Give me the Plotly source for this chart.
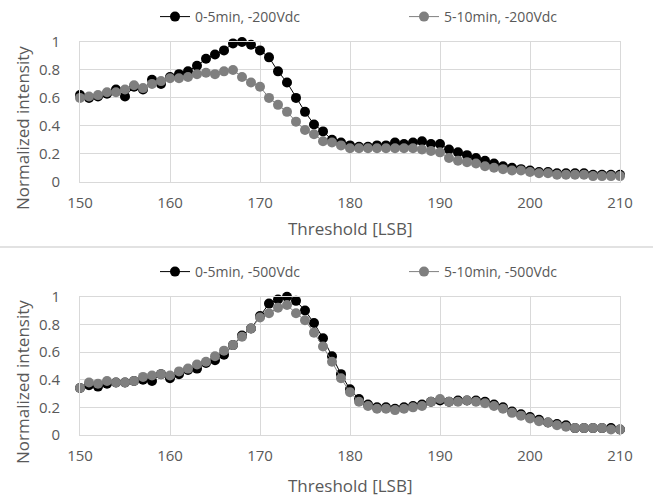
import plotly.graph_objects as go

threshold = list(range(150, 211))

top_0_5 = [0.62, 0.60, 0.61, 0.63, 0.66, 0.61, 0.68, 0.66, 0.73, 0.70,
           0.75, 0.77, 0.79, 0.83, 0.88, 0.91, 0.94, 0.99, 1.00, 0.98,
           0.94, 0.89, 0.79, 0.71, 0.60, 0.50, 0.41, 0.36, 0.30, 0.28,
           0.26, 0.25, 0.25, 0.26, 0.26, 0.28, 0.27, 0.28, 0.29, 0.27,
           0.27, 0.23, 0.21, 0.19, 0.17, 0.15, 0.13, 0.11, 0.10, 0.09,
           0.08, 0.07, 0.07, 0.06, 0.06, 0.06, 0.06, 0.05, 0.05, 0.05, 0.05]
top_5_10 = [0.60, 0.61, 0.62, 0.64, 0.64, 0.66, 0.69, 0.67, 0.70, 0.72,
            0.74, 0.74, 0.75, 0.77, 0.78, 0.77, 0.79, 0.80, 0.75, 0.71,
            0.68, 0.60, 0.55, 0.50, 0.43, 0.37, 0.34, 0.29, 0.28, 0.26,
            0.24, 0.24, 0.24, 0.24, 0.24, 0.24, 0.24, 0.24, 0.23, 0.22,
            0.21, 0.17, 0.15, 0.14, 0.13, 0.11, 0.10, 0.09, 0.08, 0.08,
            0.07, 0.06, 0.06, 0.05, 0.05, 0.05, 0.05, 0.04, 0.04, 0.04, 0.04]
bot_0_5 = [0.34, 0.36, 0.35, 0.37, 0.38, 0.38, 0.39, 0.40, 0.39, 0.44,
           0.41, 0.44, 0.47, 0.48, 0.52, 0.54, 0.58, 0.65, 0.72, 0.77,
           0.86, 0.95, 0.98, 1.00, 0.97, 0.90, 0.81, 0.70, 0.57, 0.44,
           0.33, 0.26, 0.22, 0.20, 0.20, 0.19, 0.20, 0.21, 0.22, 0.24,
           0.25, 0.24, 0.25, 0.25, 0.25, 0.24, 0.22, 0.20, 0.17, 0.15,
           0.13, 0.11, 0.09, 0.08, 0.07, 0.05, 0.05, 0.05, 0.05, 0.05, 0.04]
bot_5_10 = [0.34, 0.38, 0.37, 0.39, 0.38, 0.38, 0.39, 0.42, 0.43, 0.44,
            0.43, 0.46, 0.48, 0.51, 0.53, 0.57, 0.61, 0.65, 0.71, 0.77,
            0.85, 0.88, 0.92, 0.94, 0.88, 0.83, 0.74, 0.64, 0.53, 0.41,
            0.31, 0.24, 0.21, 0.19, 0.19, 0.18, 0.19, 0.20, 0.21, 0.24,
            0.26, 0.24, 0.24, 0.25, 0.24, 0.23, 0.21, 0.19, 0.16, 0.14,
            0.12, 0.10, 0.09, 0.07, 0.06, 0.05, 0.05, 0.05, 0.05, 0.04, 0.04]

names_top = ["0-5min, -200Vdc", "5-10min, -200Vdc"]
names_bot = ["0-5min, -500Vdc", "5-10min, -500Vdc"]
colors = ["#000000", "#7f7f7f"]
x_title = "Threshold [LSB]"
y_title = "Normalized intensity"

W, H = 653, 497
FONT = "Open Sans"
TXT = "#595959"

fig = go.Figure()

series = [
    (top_0_5, names_top[0], colors[0], "x", "y", "legend"),
    (top_5_10, names_top[1], colors[1], "x", "y", "legend2"),
    (bot_0_5, names_bot[0], colors[0], "x2", "y2", "legend3"),
    (bot_5_10, names_bot[1], colors[1], "x2", "y2", "legend4"),
]
for ys, name, col, xa, ya, lg in series:
    fig.add_trace(go.Scatter(x=threshold, y=ys, name=name, mode="lines+markers",
                             line=dict(color=col, width=1),
                             marker=dict(color=col, size=10),
                             cliponaxis=False,
                             xaxis=xa, yaxis=ya, legend=lg))

xd = [80 / W, 620 / W]
top_dom = [1 - 181.7 / H, 1 - 42 / H]
bot_dom = [1 - 435 / H, 1 - 296.7 / H]

axis_common = dict(showgrid=True, gridcolor="#d9d9d9", gridwidth=1,
                   zeroline=False, showline=True, linecolor="#d9d9d9",
                   automargin=False, mirror=True,
                   tickfont=dict(family=FONT, size=15, color=TXT))

xaxis_cfg = dict(range=[150, 210], dtick=10, tick0=150, domain=xd,
                 ticks="", ticklabelstandoff=7, **axis_common)
yaxis_cfg = dict(range=[0, 1], dtick=0.2, tick0=0, ticks="", ticklabelstandoff=16,
                 **axis_common)


def leg(xpix, ypix):
    return dict(orientation="h", x=xpix / W, xanchor="left", y=1 - ypix / H, yanchor="middle",
                bgcolor="rgba(0,0,0,0)", font=dict(family=FONT, size=14, color=TXT),
                itemclick=False, itemdoubleclick=False)


tfont = dict(family=FONT, size=17, color=TXT)
annotations = [
    dict(text=x_title, xref="paper", yref="paper", x=350 / W, y=1 - 228 / H,
         xanchor="center", yanchor="middle", showarrow=False, font=tfont),
    dict(text=x_title, xref="paper", yref="paper", x=350 / W, y=1 - 485 / H,
         xanchor="center", yanchor="middle", showarrow=False, font=tfont),
    dict(text=y_title, xref="paper", yref="paper", x=22 / W, y=1 - 128 / H,
         xanchor="center", yanchor="middle", textangle=-90, showarrow=False, font=tfont),
    dict(text=y_title, xref="paper", yref="paper", x=22 / W, y=1 - 382 / H,
         xanchor="center", yanchor="middle", textangle=-90, showarrow=False, font=tfont),
]

fig.update_layout(
    width=W, height=H,
    margin=dict(l=0, r=0, t=0, b=0),
    paper_bgcolor="white", plot_bgcolor="white",
    xaxis=dict(anchor="y", **xaxis_cfg),
    yaxis=dict(anchor="x", domain=top_dom, **yaxis_cfg),
    xaxis2=dict(anchor="y2", **xaxis_cfg),
    yaxis2=dict(anchor="x2", domain=bot_dom, **yaxis_cfg),
    legend=leg(155, 17),
    legend2=leg(404, 17),
    legend3=leg(155, 272),
    legend4=leg(404, 272),
    annotations=annotations,
    shapes=[dict(type="line", xref="paper", yref="paper", x0=0, x1=1,
                 y0=1 - 247 / H, y1=1 - 247 / H, line=dict(color="#d9d9d9", width=1.5))],
    showlegend=True,
)

fig.write_html("out.html")
